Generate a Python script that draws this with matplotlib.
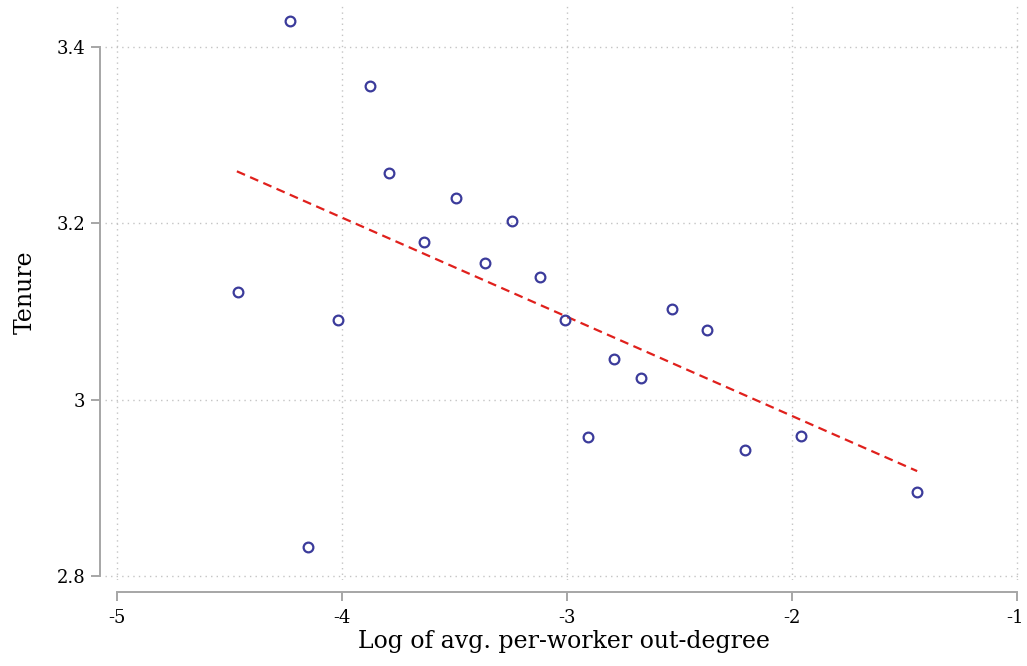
import matplotlib
matplotlib.use("Agg")
import matplotlib.pyplot as plt
import matplotlib.transforms as mtransforms

# binned means
log_outdegree = [-4.231, -3.876, -3.791, -3.493, -3.244, -3.636, -3.364, -3.120, -4.462, -4.018,
                 -3.009, -2.533, -2.378, -2.791, -2.671, -2.907, -2.209, -1.960, -1.444, -4.151]
tenure = [3.430, 3.356, 3.257, 3.229, 3.203, 3.179, 3.155, 3.139, 3.122, 3.090,
          3.090, 3.103, 3.079, 3.046, 3.025, 2.958, 2.943, 2.959, 2.895, 2.833]

# linear fit line end points
fit_x = [-4.467, -1.444]
fit_y = [3.259, 2.919]

x_ticks = [-5, -4, -3, -2, -1]
x_tick_labels = ["-5", "-4", "-3", "-2", "-1"]
y_ticks = [2.8, 3.0, 3.2, 3.4]
y_tick_labels = ["2.8", "3", "3.2", "3.4"]

plt.rcParams["font.family"] = "DejaVu Serif"

fig = plt.figure(figsize=(10.27, 6.66), dpi=100)
ax = fig.add_axes([105 / 1027, 1 - 580 / 666, 917 / 1027, 575 / 666])

ax.plot(log_outdegree, tenure, linestyle="none", marker="o", markersize=7,
        markerfacecolor="none", markeredgecolor="#3b3b9b", markeredgewidth=1.6, zorder=3)
ax.plot(fit_x, fit_y, color="#e0201c", linestyle=(0, (4, 2.5)), linewidth=1.6, zorder=2)

ax.set_xlim(-5.053, -0.978)
ax.set_ylim(2.7955, 3.4476)
ax.set_xticks(x_ticks)
ax.set_xticklabels(x_tick_labels)
ax.set_yticks(y_ticks)
ax.set_yticklabels(y_tick_labels)

ax.grid(True, color="#c4c4c4", linestyle=(0, (1, 3)), linewidth=1.0)
ax.set_axisbelow(True)

for side in ["top", "right"]:
    ax.spines[side].set_visible(False)
ax.spines["left"].set_position(("outward", 3.6))
ax.spines["bottom"].set_position(("outward", 8.6))
ax.spines["left"].set_bounds(2.8, 3.4)
ax.spines["bottom"].set_bounds(-5, -1)
for side in ["left", "bottom"]:
    ax.spines[side].set_color("#a6a6a6")
    ax.spines[side].set_linewidth(1.4)

ax.tick_params(axis="both", colors="#a6a6a6", width=1.4, length=6.5, labelsize=13,
               labelcolor="black")
ax.tick_params(axis="y", pad=4)
ax.tick_params(axis="x", pad=6)

# keep the last x label inside the figure
last = ax.get_xticklabels()[-1]
last.set_transform(last.get_transform() + mtransforms.ScaledTranslation(-2 / 100, 0, fig.dpi_scale_trans))

ax.set_xlabel("Log of avg. per-worker out-degree", fontsize=17, labelpad=2)
ax.set_ylabel("Tenure", fontsize=17, labelpad=14)

fig.savefig("out.png", dpi=100)
